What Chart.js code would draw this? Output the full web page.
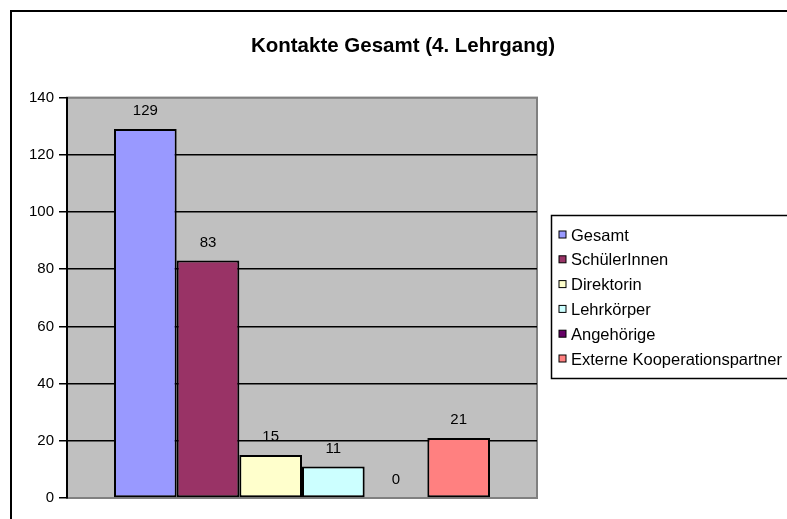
<!DOCTYPE html>
<html>
<head>
    <meta charset="utf-8">
    <script src="https://cdn.jsdelivr.net/npm/chart.js@4.4.0/dist/chart.umd.min.js"></script>
    <style>
        body { margin: 0; background: #fff; }
    </style>
</head>
<body>
<canvas id="myChart" width="787" height="519"></canvas>

<script>
    const categories = [""];
    const seriesNames = ["Gesamt", "SchülerInnen", "Direktorin", "Lehrkörper", "Angehörige", "Externe Kooperationspartner"];
    const seriesValues = [129, 83, 15, 11, 0, 21];
    const seriesColors = ["#9999FF", "#993366", "#FFFFCC", "#CCFFFF", "#660066", "#FF8080"];
    const yTicks = [0, 20, 40, 60, 80, 100, 120, 140];

    Chart.defaults.font.family = "'Liberation Sans', Arial, sans-serif";
    Chart.defaults.color = "#000";

    // frame, grey plot area, value labels and the boxed legend (Excel look)
    const excelLook = {
        id: "excelLook",
        beforeDraw(chart) {
            const ctx = chart.ctx, a = chart.chartArea;
            ctx.save();
            ctx.fillStyle = "#fff";
            ctx.fillRect(0, 0, chart.width, chart.height);
            ctx.strokeStyle = "#000";
            ctx.lineWidth = 2;
            ctx.strokeRect(11, 11, chart.width + 20, chart.height + 20);
            ctx.fillStyle = "#C0C0C0";
            ctx.fillRect(a.left, a.top, a.right - a.left, a.bottom - a.top);
            ctx.strokeStyle = "#808080";
            ctx.lineWidth = 2;
            ctx.strokeRect(a.left, a.top, a.right - a.left, a.bottom - a.top);
            ctx.restore();
        },
        afterDatasetsDraw(chart) {
            const ctx = chart.ctx;
            ctx.save();
            ctx.font = "15px 'Liberation Sans', Arial, sans-serif";
            ctx.fillStyle = "#000";
            ctx.textAlign = "center";
            ctx.textBaseline = "middle";
            chart.data.datasets.forEach((ds, i) => {
                const bar = chart.getDatasetMeta(i).data[0];
                ctx.fillText(String(ds.data[0]), bar.x, bar.y - 18);
            });
            ctx.restore();
        },
        afterDraw(chart) {
            const ctx = chart.ctx, a = chart.chartArea;
            const step = 24.8;
            const n = chart.data.datasets.length;
            const boxLeft = a.right + 14;
            const boxH = 163;
            const boxTop = Math.round((a.top + a.bottom) / 2 - boxH / 2) - 0.5;
            ctx.save();
            ctx.strokeStyle = "#000";
            ctx.lineWidth = 1.5;
            ctx.strokeRect(boxLeft + 0.5, boxTop, chart.width - boxLeft + 10, boxH);
            ctx.font = "16.5px 'Liberation Sans', Arial, sans-serif";
            ctx.textBaseline = "middle";
            ctx.textAlign = "left";
            const firstY = boxTop + boxH / 2 - step * (n - 1) / 2;
            chart.data.datasets.forEach((ds, i) => {
                const y = firstY + i * step;
                ctx.fillStyle = ds.backgroundColor;
                ctx.fillRect(boxLeft + 8, y - 4, 7, 7);
                ctx.lineWidth = 1;
                ctx.strokeRect(boxLeft + 8, y - 4, 7, 7);
                ctx.fillStyle = "#000";
                ctx.fillText(ds.label, boxLeft + 20, y + 1);
            });
            ctx.restore();
        }
    };

    const datasets = seriesNames.map((name, i) => ({
        label: name,
        data: [seriesValues[i]],
        backgroundColor: seriesColors[i],
        borderColor: "#000",
        borderWidth: 2,
        borderSkipped: false
    }));

    const myChart = new Chart("myChart", {
        type: "bar",
        data: {
            labels: categories,
            datasets: datasets
        },
        options: {
            responsive: false,
            animation: false,
            categoryPercentage: 0.8,
            barPercentage: 1,
            layout: {
                padding: { left: 19, right: 0, top: 0, bottom: 21 }
            },
            plugins: {
                legend: { display: false },
                tooltip: { enabled: false },
                title: {
                    display: true,
                    text: "Kontakte Gesamt (4. Lehrgang)",
                    font: { size: 20.5, weight: "bold" },
                    color: "#000",
                    padding: { top: 34, bottom: 39 }
                }
            },
            scales: {
                x: { display: false },
                y: {
                    min: 0,
                    max: 140,
                    afterBuildTicks: (s) => { s.ticks = yTicks.map(v => ({ value: v })); },
                    afterFit: (s) => { s.width = 48; },
                    ticks: { font: { size: 15 }, color: "#000", padding: 5 },
                    grid: {
                        color: (c) => (c.tick && (c.tick.value === 0 || c.tick.value === 140)) ? "#808080" : "#000",
                        tickColor: "#000",
                        tickLength: 8,
                        lineWidth: 1.5
                    },
                    border: { color: "#000", width: 2 }
                },
                legendSpace: {
                    type: "linear",
                    position: "right",
                    display: true,
                    afterFit: (s) => { s.width = 250; },
                    ticks: { display: false },
                    grid: { display: false },
                    border: { display: false }
                }
            }
        },
        plugins: [excelLook]
    });
</script>
</body>
</html>
